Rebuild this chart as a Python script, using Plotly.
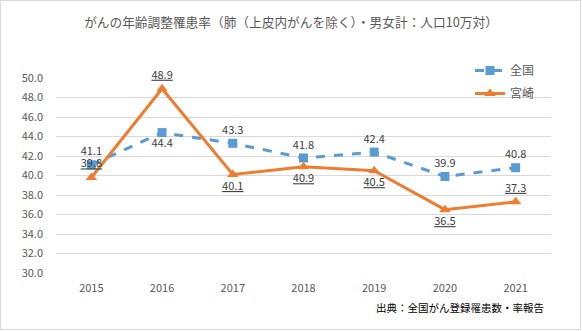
import plotly.graph_objects as go

years = ["2015", "2016", "2017", "2018", "2019", "2020", "2021"]
zenkoku = [41.1, 44.4, 43.3, 41.8, 42.4, 39.9, 40.8]
miyazaki = [39.8, 48.9, 40.1, 40.9, 40.5, 36.5, 37.3]
zen_pos = ["top center", "bottom center", "top center", "top center", "top center", "top center", "top center"]
miya_pos = ["top center", "top center", "bottom center", "bottom center", "bottom center", "bottom center", "top center"]
yticks = [30, 32, 34, 36, 38, 40, 42, 44, 46, 48, 50]

FONT = "Noto Sans CJK JP, Noto Sans, sans-serif"
BLUE = "#5B9BD5"
ORANGE = "#ED7D31"

fig = go.Figure()
fig.add_trace(go.Scatter(
    x=years, y=zenkoku, name="全国", mode="lines+markers+text", legendgroup="a",
    line=dict(color=BLUE, width=3, dash="dash"),
    marker=dict(symbol="square", size=9, color=BLUE),
    text=[f"{v:.1f}" for v in zenkoku], textposition=zen_pos,
    textfont=dict(family=FONT, size=11, color="#404040"),
    cliponaxis=False,
))
fig.add_trace(go.Scatter(
    x=years, y=miyazaki, name="宮崎", mode="lines+markers+text", legendgroup="b",
    line=dict(color=ORANGE, width=3),
    marker=dict(symbol="triangle-up", size=10, color=ORANGE),
    text=[f"{v:.1f}" for v in miyazaki], textposition=miya_pos,
    textfont=dict(family=FONT, size=11, color="#404040", lineposition="under"),
    cliponaxis=False,
))

W, H = 582, 331
ml, mr, mt, mb = 56, 31, 78, 58
pw, ph = W - ml - mr, H - mt - mb

def px_to_paper_x(px):
    return (px - ml) / pw

def px_to_paper_y(py):
    return (H - mb - py) / ph

fig.update_layout(
    width=W, height=H,
    margin=dict(l=ml, r=mr, t=mt, b=mb),
    paper_bgcolor="white", plot_bgcolor="white",
    font=dict(family=FONT, size=11, color="#595959"),
    title=dict(text="がんの年齢調整罹患率（肺（上皮内がんを除く）・男女計：人口10万対）",
               x=0.5, xanchor="center", y=1 - 23 / H, yanchor="middle",
               font=dict(family=FONT, size=12.7, color="#595959")),
    xaxis=dict(type="category", range=[-0.5, 6.5], showgrid=False, showline=False,
               ticks="", ticklabelstandoff=7, tickfont=dict(size=11, color="#595959")),
    yaxis=dict(range=[30, 50], tickvals=yticks, tickformat=".1f", showgrid=True,
               gridcolor="#D9D9D9", gridwidth=1, zeroline=False, showline=False,
               ticks="", ticklabelstandoff=12, tickfont=dict(size=11, color="#595959")),
    legend=dict(x=px_to_paper_x(470), y=px_to_paper_y(56), xanchor="left", yanchor="top",
                bgcolor="rgba(0,0,0,0)", font=dict(size=12, color="#595959"),
                tracegroupgap=4),
    showlegend=True,
)

fig.add_annotation(text="出典：全国がん登録罹患数・率報告", xref="paper", yref="paper",
                   x=px_to_paper_x(546), y=px_to_paper_y(307), xanchor="right", yanchor="middle",
                   showarrow=False, font=dict(family=FONT, size=10.5, color="#000000"))

fig.add_shape(type="rect", xref="paper", yref="paper",
              x0=px_to_paper_x(0.5), x1=px_to_paper_x(W - 1.5),
              y0=px_to_paper_y(H - 1.5), y1=px_to_paper_y(0.5),
              line=dict(color="#D9D9D9", width=1), fillcolor="rgba(0,0,0,0)", layer="below")

fig.write_html("out.html")
